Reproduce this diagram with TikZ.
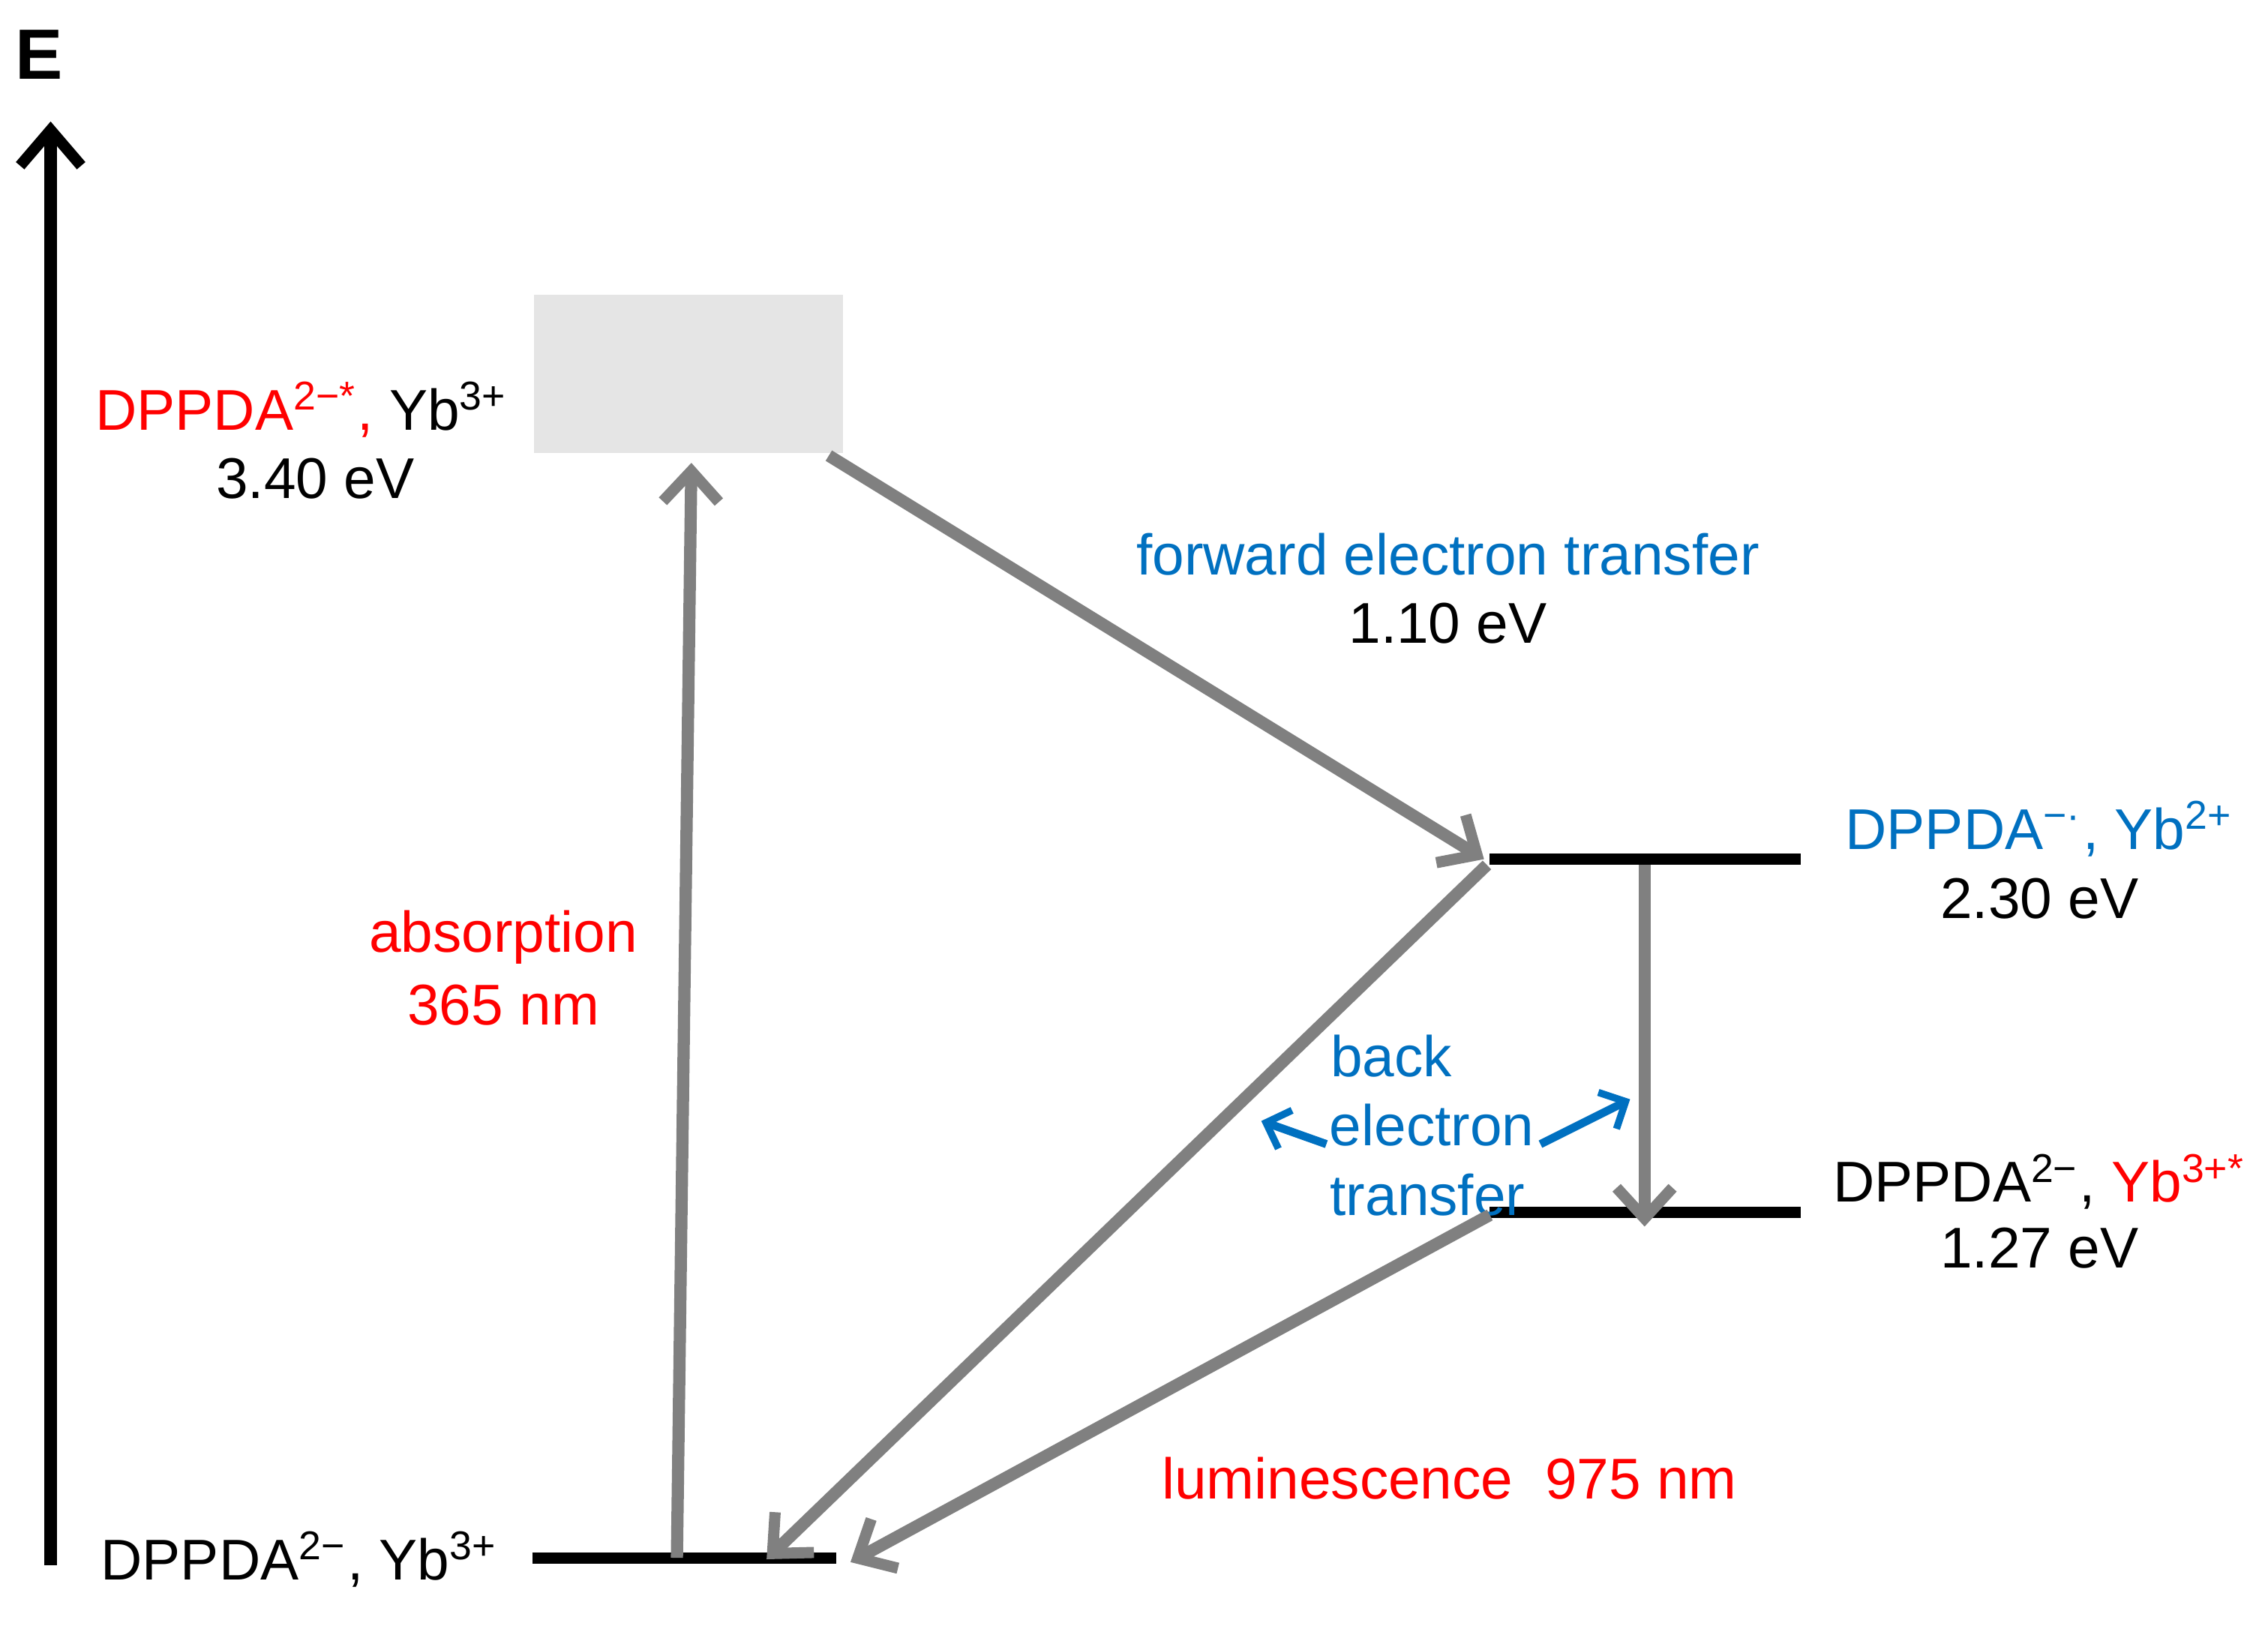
\documentclass[tikz,border=0pt]{standalone}
\usepackage{fontspec}
\setmainfont{Liberation Sans}
\usetikzlibrary{arrows.meta}
\definecolor{myblue}{HTML}{0070C0}
\definecolor{myred}{HTML}{FF0000}
\definecolor{mygray}{HTML}{808080}
\begin{document}
\begin{tikzpicture}[x=0.01cm,y=-0.01cm,
  txt/.style={font=\fontsize{11.3}{13.5}\selectfont,inner sep=0pt},
  level/.style={line width=2.2pt,black},
  garrow/.style={line width=2.4pt,mygray,-{Straight Barb[length=6pt,width=11pt,line width=2.2pt]}},
  barrow/.style={line width=1.6pt,myblue,-{Straight Barb[length=4pt,width=8pt,line width=1.4pt]}}]
\useasboundingbox (0,0) rectangle (1568,1130);
% axis
\coordinate (ax0) at (35,1082);
\coordinate (ax1) at (35,84);
\draw[line width=2.4pt,-{Straight Barb[length=7pt,width=12pt,line width=2.2pt]}] (ax0) -- (ax1);
\node[txt,font=\fontsize{14}{16}\selectfont\bfseries] (E) at (27,38) {E};
% box
\node[fill=black!10,minimum width=2.14cm,minimum height=1.09cm,inner sep=0pt] (box) at (476,258.5) {};
% levels
\coordinate (g0) at (368,1077); \coordinate (g1) at (578,1077);
\coordinate (m0) at (1030,594); \coordinate (m1) at (1245,594);
\coordinate (l0) at (1030,838); \coordinate (l1) at (1245,838);
\draw[level] (g0) -- (g1);
\draw[level] (m0) -- (m1);
\draw[level] (l0) -- (l1);
% labels
\node[txt,anchor=east] (lab1) at (352,283) {\textcolor{myred}{DPPDA\textsuperscript{2−*},} Yb\textsuperscript{3+}};
\node[txt] (lab1e) at (218,331) {3.40 eV};
\node[txt,anchor=east] (lab0) at (345,1078) {DPPDA\textsuperscript{2−}, Yb\textsuperscript{3+}};
\node[txt,myblue] (lab2) at (1410,573) {DPPDA\textsuperscript{−·}, Yb\textsuperscript{2+}};
\node[txt] (lab2e) at (1410,621) {2.30 eV};
\node[txt] (lab3) at (1410,817) {DPPDA\textsuperscript{2−}, \textcolor{myred}{Yb\textsuperscript{3+*}}};
\node[txt] (lab3e) at (1410,863) {1.27 eV};
\node[txt,myblue] (fw) at (1001,383) {forward electron transfer};
\node[txt] (fwe) at (1001,431) {1.10 eV};
\node[txt,myred] (abs) at (348,648) {absorption};
\node[txt,myred] (absn) at (348,695) {365 nm};
\node[txt,myblue] (b1) at (962,730) {back};
\node[txt,myblue] (b2) at (990,778) {electron};
\node[txt,myblue] (b3) at (987,826) {transfer};
\node[txt,myred] (lum) at (1002,1022) {luminescence\ \ 975 nm};
% arrows
\coordinate (a0) at (468,1077); \coordinate (a1) at (478,320);
\draw[garrow] (a0) -- (a1);
\coordinate (f0) at (573,315); \coordinate (f1) at (1026,594);
\draw[garrow] (f0) -- (f1);
\coordinate (d0) at (1028,598); \coordinate (d1) at (530,1078);
\draw[garrow] (d0) -- (d1);
\coordinate (e0) at (1030,840); \coordinate (e1) at (588,1080);
\draw[garrow] (e0) -- (e1);
\coordinate (v0) at (1137,598); \coordinate (v1) at (1137,848);
\draw[garrow] (v0) -- (v1);
\coordinate (s0) at (917,791); \coordinate (s1) at (872,775);
\draw[barrow] (s0) -- (s1);
\coordinate (t0) at (1065,791); \coordinate (t1) at (1127,760);
\draw[barrow] (t0) -- (t1);
\end{tikzpicture}
\end{document}
